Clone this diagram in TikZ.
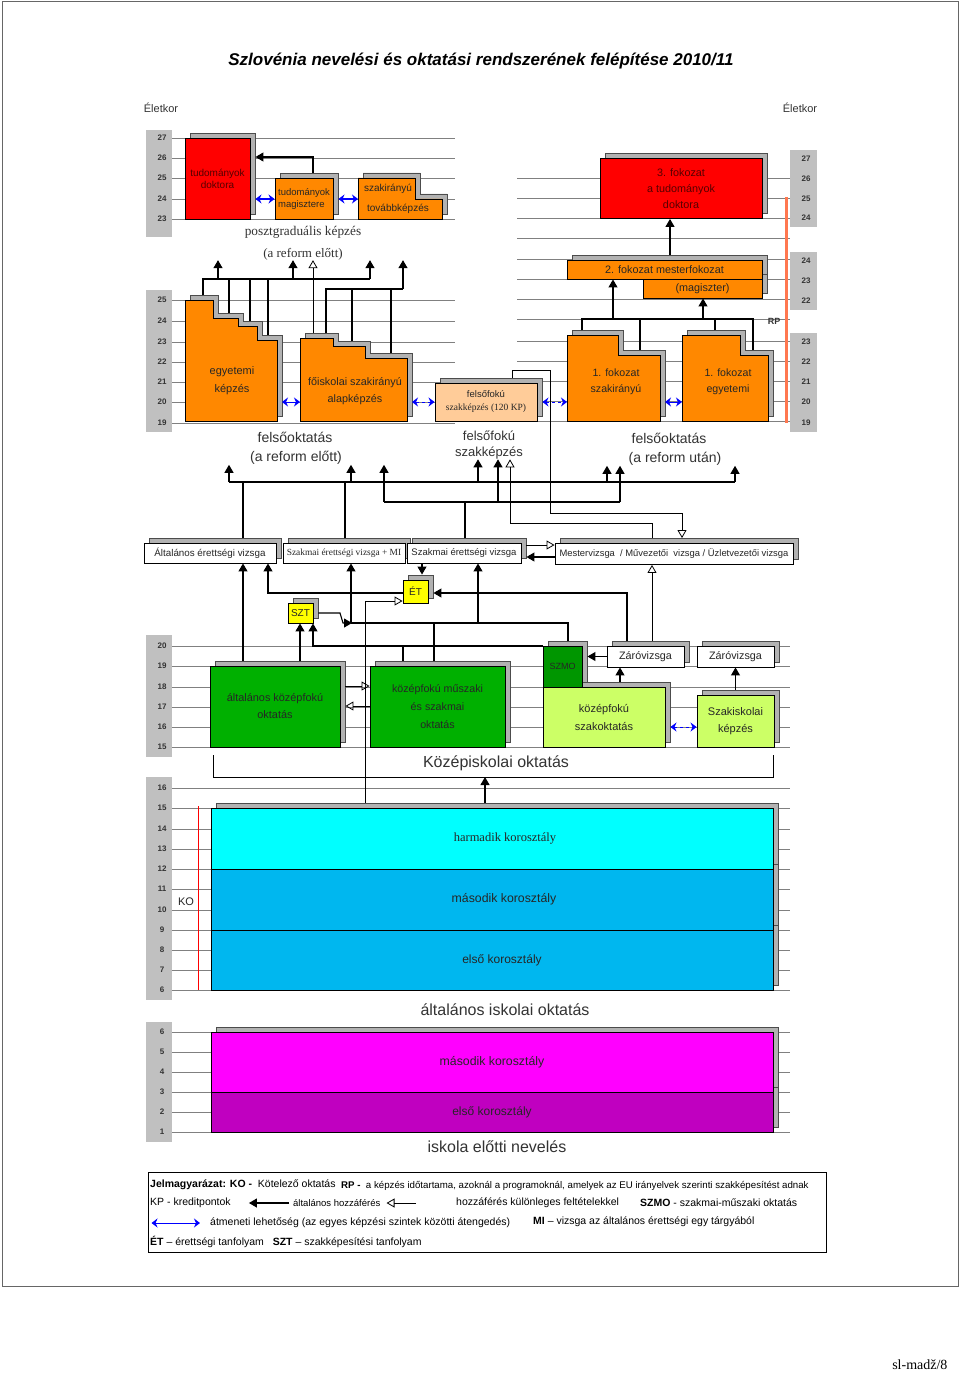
\documentclass[tikz,border=0pt]{standalone}
\usepackage{fontspec}
\setmainfont{Liberation Sans}
\newfontfamily\timesfont{Liberation Serif}
\usetikzlibrary{arrows.meta,shadows,calc}

\definecolor{piros}{RGB}{255,0,0}
\definecolor{bordo}{RGB}{85,0,0}
\definecolor{narancs}{RGB}{255,136,0}
\definecolor{barack}{RGB}{255,204,153}
\definecolor{zold}{RGB}{0,176,0}
\definecolor{mzold}{RGB}{0,150,0}
\definecolor{vzold}{RGB}{204,255,102}
\definecolor{sarga}{RGB}{255,255,0}
\definecolor{cian}{RGB}{0,255,255}
\definecolor{egkek}{RGB}{0,183,239}
\definecolor{bibor}{RGB}{255,0,255}
\definecolor{lila}{RGB}{192,0,192}
\definecolor{rpszin}{RGB}{255,120,80}
\definecolor{kszurke}{RGB}{192,192,192}

\tikzset{
  kocka/.style = {draw=black, line width=0.9pt, inner sep=1pt, align=center,
    text=black!85, font=\fontsize{10}{12}\selectfont,
    general shadow={fill=gray!60, draw=black!70, shadow xshift=5pt,
      shadow yshift=5pt}},% 3D doboz
  lepcso/.style = {draw=black, line width=0.9pt,
    general shadow={fill=gray!60, draw=black!70, shadow xshift=5pt,
      shadow yshift=5pt}},% lepcsos doboz
  felirat/.style = {inner sep=0pt, align=center, text=black!85,
    font=\fontsize{10.6}{16}\selectfont},
  cimke/.style = {inner sep=0pt, align=center, text=black!80,
    font=\fontsize{14}{16}\selectfont},% szint neve
  kor/.style = {inner sep=0pt, text=black!80, font=\fontsize{8}{8}\selectfont\bfseries},
  korsav/.style = {fill=kszurke},
  racs/.style = {draw=black!50, line width=0.7pt},
  vonal/.style = {line width=1.1pt},
  alt/.style = {line width=1.1pt, -{Triangle[length=8pt,width=9pt]}},% altalanos hozzaferes
  kul/.style = {line width=0.8pt, -{Triangle[open,length=8pt,width=9pt]}},% kulonleges feltetelekkel
  atm/.style = {blue, line width=1pt,
    {Stealth[length=6pt,width=9pt]}-{Stealth[length=6pt,width=9pt]}},% atmeneti lehetoseg
  jel/.style = {inner sep=0pt, anchor=west, font=\fontsize{10.5}{11}\selectfont}
}

\begin{document}
\begin{tikzpicture}[x=1pt,y=-1pt]
\useasboundingbox (0,0) rectangle (960,1375);
\fill[white] (0,0) rectangle (960,1375);
\draw[black!60, line width=1pt] (2,2) rectangle (958,1286);

\node[font=\fontsize{17}{18}\selectfont\bfseries\itshape] (cim) at (481,61)
  {Szlovénia nevelési és oktatási rendszerének felépítése 2010/11};
\node[kor, font=\fontsize{11}{11}\selectfont] (kor1) at (161,108) {Életkor};
\node[kor, font=\fontsize{11}{11}\selectfont] (kor2) at (800,108) {Életkor};

% eletkor savok
\fill[korsav] (146,130) rectangle (172,237);
\fill[korsav] (146,290) rectangle (172,432);
\fill[korsav] (146,635) rectangle (172,757);
\fill[korsav] (146,777) rectangle (172,1000);
\fill[korsav] (146,1022) rectangle (172,1142);
\fill[korsav] (790,150) rectangle (817,227);
\fill[korsav] (790,252) rectangle (817,310);
\fill[korsav] (790,333) rectangle (817,432);
\foreach \k/\y in {27/138,26/158,25/178,24/199,23/219,
  25/300,24/321,23/342,22/362,21/382,20/402,19/423,
  20/646,19/666,18/687,17/707,16/727,15/747,
  16/788,15/808,14/829,13/849,12/869,11/889,10/910,9/930,8/950,7/970,6/990,
  6/1032,5/1052,4/1072,3/1092,2/1112,1/1132}
  \node[kor] (bal\y) at (162,\y) {\k};
\foreach \k/\y in {27/159,26/179,25/199,24/218,24/261,23/281,22/301,
  23/342,22/362,21/382,20/402,19/423}
  \node[kor] (jobb\y) at (806,\y) {\k};

% racs
\foreach \y in {138,158,178,199,219,300,321,342,362,382,402,423}
  \draw[racs] (172,\y) -- (455,\y);
\foreach \y in {178,198,218,238,259,279,299,319,341,361,381,401,421}
  \draw[racs] (517,\y) -- (790,\y);
\foreach \y in {646,666,687,707,727,747,788,808,829,849,869,889,910,930,950,970,990,
  1032,1052,1072,1092,1112,1132}
  \draw[racs] (172,\y) -- (790,\y);

% posztgradualis kepzes
\node[kocka, fill=piros, text=bordo, minimum width=65, minimum height=81]
  (tdr) at (217.5,178.5) {tudományok\\doktora};
\node[kocka, fill=narancs, align=left, font=\fontsize{9.5}{12}\selectfont,
  minimum width=58, minimum height=41] (tmag) at (304,198.5) {tudományok\\magisztere};
\draw[lepcso, fill=narancs] (358,219) -- (358,178) -- (415,178) -- (415,199)
  -- (442,199) -- (442,219) -- cycle;
\node[felirat, font=\fontsize{10}{10}\selectfont] (szto1) at (388,189) {szakirányú};
\node[felirat, font=\fontsize{10}{10}\selectfont] (szto2) at (398,209) {továbbképzés};
\coordinate (szto) at (358,199);
\draw[alt, shorten >=5pt, shorten <=5pt] (tmag.north -| 313,0) |- (tdr.east |- 0,157);
\draw[atm, shorten <=5pt] (tdr.east |- 0,199) -- (tmag.west |- 0,199);
\draw[atm, shorten <=5pt] (tmag.east |- 0,199) -- (szto);
\node[cimke, font=\timesfont\fontsize{13.3}{16}\selectfont] (poszt1) at (303,232)
  {posztgraduális képzés};
\node[cimke, font=\timesfont\fontsize{13}{16}\selectfont] (poszt2) at (303,254)
  {(a reform előtt)};

% felsooktatas a reform elott
\draw[lepcso, fill=narancs] (185,421) -- (185,300) -- (213,300) -- (213,318)
  -- (238,318) -- (238,326) -- (257,326) -- (257,340) -- (277,340)
  -- (277,421) -- cycle;
\node[felirat, font=\fontsize{11}{18}\selectfont] (egy) at (232,381) {egyetemi\\képzés};
\coordinate (egy1) at (203,295);
\coordinate (egy2) at (229,313);
\coordinate (egy3) at (250,321);
\coordinate (egy4) at (268,335);
\draw[lepcso, fill=narancs] (300,421) -- (300,338) -- (333,338) -- (333,346)
  -- (365,346) -- (365,358) -- (407,358) -- (407,421) -- cycle;
\node[felirat, font=\fontsize{10.8}{17}\selectfont] (foi) at (355,391)
  {főiskolai szakirányú\\alapképzés};
\coordinate (foi1) at (313,333);
\coordinate (foi2) at (326,333);
\coordinate (foi3) at (352,341);
\coordinate (foi4) at (391,353);
\draw[vonal] (egy1) |- (370,279);
\foreach \c in {egy2,egy3,egy4} \draw[vonal] (\c) -- (\c |- 0,279);
\foreach \x in {218,293,370} \draw[alt] (\x,279) -- (\x,0 |- poszt2.south);
\draw[kul] (foi1) -- (foi1 |- poszt2.south);
\draw[vonal] (foi2) |- (403,289);
\foreach \c in {foi3,foi4} \draw[vonal] (\c) -- (\c |- 0,289);
\draw[alt] (403,289) -- (403,0 |- poszt2.south);

% felsofoku szakkepzes
\node[kocka, fill=barack, minimum width=102, minimum height=38,
  font=\fontsize{9.5}{13}\selectfont] (fsz) at (486,402)
  {felsőfokú\\{\timesfont szakképzés (120 KP)}};

% felsooktatas a reform utan
\node[kocka, fill=piros, text=bordo, font=\fontsize{10.8}{16}\selectfont,
  minimum width=162, minimum height=60] (dr3) at (681,188.5)
  {3. fokozat\\a tudományok\\doktora};
\node[kocka, fill=narancs, minimum width=119, minimum height=19,
  font=\fontsize{10.8}{10}\selectfont] (m2b) at (702.5,288.5) {(magiszter)};
\node[kocka, fill=narancs, minimum width=195, minimum height=19,
  font=\fontsize{10.8}{10}\selectfont] (m2a) at (664.5,269.5) {2. fokozat mesterfokozat};
\draw[alt, shorten <=5pt] (m2a.north -| 670,0) -- (670,0 |- dr3.south);
\draw[lepcso, fill=narancs] (567,421) -- (567,335) -- (618,335) -- (618,355)
  -- (660,355) -- (660,421) -- cycle;
\node[felirat] (f1sz) at (616,382) {1. fokozat\\szakirányú};
\draw[lepcso, fill=narancs] (682,421) -- (682,335) -- (740,335) -- (740,355)
  -- (768,355) -- (768,421) -- cycle;
\node[felirat] (f1eg) at (728,382) {1. fokozat\\egyetemi};
\coordinate (f1sz1) at (582,330);
\coordinate (f1sz2) at (640,350);
\coordinate (f1eg1) at (715,330);
\coordinate (f1eg2) at (753,350);
\draw[vonal] (f1sz1) |- (f1eg2 |- 0,319) -- (f1eg2);
\foreach \c in {f1sz2,f1eg1} \draw[vonal] (\c) -- (\c |- 0,319);
\draw[alt] (613,319) -- (613,0 |- m2a.south);
\draw[alt] (703,319) -- (703,0 |- m2b.south);
\draw[rpszin, line width=3pt] (786,197) -- (786,423);
\node[kor, font=\fontsize{9}{9}\selectfont\bfseries] (rp) at (774,321) {RP};

% atmenetek
\coordinate (egyj) at (282,402);
\coordinate (foib) at (300,402);
\coordinate (foij) at (412,402);
\coordinate (f1szb) at (567,402);
\coordinate (f1szj) at (665,402);
\coordinate (f1egb) at (682,402);
\draw[atm] (egyj) -- (foib);
\draw[atm, dashed] (foij) -- (fsz.west |- foij);
\draw[atm, dashed, shorten <=5pt] (fsz.east |- f1szb) -- (f1szb);
\draw[atm] (f1szj) -- (f1egb);

\node[cimke] (fo1) at (295,437) {felsőoktatás};
\node[cimke] (fo2) at (296,458) {(a reform előtt)};
\node[cimke, font=\fontsize{13}{16}\selectfont] (fszk1) at (489,436) {felsőfokú};
\node[cimke, font=\fontsize{13}{16}\selectfont] (fszk2) at (489,453) {szakképzés};
\node[cimke] (fo3) at (669,438) {felsőoktatás};
\node[cimke] (fo4) at (675,459) {(a reform után)};

% vizsgak
\node[kocka, fill=white, minimum width=132, minimum height=20,
  font=\fontsize{9.8}{9}\selectfont] (aev) at (210,553) {Általános érettségi vizsga};
\node[kocka, fill=white, minimum width=122, minimum height=20,
  font=\timesfont\fontsize{9.4}{8}\selectfont] (szmi) at (344,553)
  {Szakmai érettségi vizsga + MI};
\node[kocka, fill=white, minimum width=114, minimum height=20,
  font=\fontsize{9.5}{9}\selectfont] (szev) at (464,553) {Szakmai érettségi vizsga};
\node[kocka, fill=white, minimum width=238, minimum height=21,
  font=\fontsize{9.4}{9}\selectfont] (mvizsga) at (674,554)
  {Mestervizsga \ / Művezetői \ vizsga / Üzletvezetői vizsga};

\draw[vonal] (229,482) -- (735,482);
\draw[vonal] (384,502) -- (620,502);
\draw[vonal, shorten <=5pt] (aev.north -| 243,0) -- (243,482);
\draw[vonal, shorten <=5pt] (szmi.north -| 345,0) -- (345,482);
\draw[vonal, shorten <=5pt] (szev.north -| 465,0) -- (465,502);
\foreach \x in {229,351} \draw[alt] (\x,482) -- (\x,0 |- fo2.south);
\draw[alt] (478,482) -- (478,0 |- fszk2.south);
\foreach \x in {607,735} \draw[alt] (\x,482) -- (\x,0 |- fo4.south);
\draw[alt] (384,502) -- (384,0 |- fo2.south);
\draw[alt] (498,502) -- (498,0 |- fszk2.south);
\draw[alt] (620,502) -- (620,0 |- fo4.south);
\draw[kul, shorten >=5pt] ($(fsz.north)+(26,-5)$) |- (550,370) |- (682,513)
  -- (682,0 |- mvizsga.north);
\draw[kul] ($(mvizsga.north)+(-22,-5)$) |- (510,523) -- (510,0 |- fszk2.south);
\draw[kul, shorten <=5pt] (szev.east |- 0,545) -- (mvizsga.west |- 0,545);
\draw[alt, shorten >=5pt] (mvizsga.west |- 0,557) -- (szev.east |- 0,557);

% tanfolyamok
\node[kocka, fill=sarga, minimum width=25, minimum height=23] (et) at (415.5,591.5) {ÉT};
\node[kocka, fill=sarga, minimum width=25, minimum height=20] (szt) at (300.5,613) {SZT};
\draw[alt, shorten >=5pt] (szev.south -| 422,0) -- (422,0 |- et.north);
\draw[alt] (et.west |- 0,593) -| (268,0 |- aev.south);

% kozepiskolai oktatas
\node[kocka, fill=zold, minimum width=130, minimum height=81,
  font=\fontsize{10.9}{17}\selectfont] (aka) at (275,706.5) {általános középfokú\\oktatás};
\node[kocka, fill=zold, minimum width=135, minimum height=81,
  font=\fontsize{10.7}{18}\selectfont] (msz) at (437.5,706.5)
  {középfokú műszaki\\és szakmai\\oktatás};
\node[kocka, fill=vzold, minimum width=122, minimum height=60,
  font=\fontsize{11}{18}\selectfont] (szak) at (604,717) {középfokú\\szakoktatás};
\node[kocka, fill=mzold, minimum width=39, minimum height=41,
  font=\fontsize{9}{9}\selectfont] (szmo) at (562.5,666.5) {SZMO};
\node[kocka, fill=white, minimum width=77, minimum height=21,
  font=\fontsize{10.8}{10}\selectfont] (zv1) at (645.5,656.5) {Záróvizsga};
\node[kocka, fill=white, minimum width=77, minimum height=21,
  font=\fontsize{10.8}{10}\selectfont] (zv2) at (735.5,656.5) {Záróvizsga};
\node[kocka, fill=vzold, minimum width=77, minimum height=52,
  font=\fontsize{11}{17}\selectfont] (szi) at (735.5,721) {Szakiskolai\\képzés};

\draw[alt, shorten <=5pt] (aka.north -| 243,0) -- (243,0 |- aev.south);
\draw[alt, shorten <=5pt] (aka.north -| 300,0) -- (300,0 |- szt.south);
\draw[vonal, shorten <=5pt] (msz.north -| 403,0) -- (403,646);
\draw[alt] (szmo.west |- 0,646) -| (313,0 |- szt.south);
\draw[vonal, shorten <=5pt] (msz.north -| 434,0) -- (434,623);
\draw[vonal, shorten >=5pt] (351,623) -| (szmo.north -| 568,0);
\draw[alt] (351,623) -- (351,0 |- szmi.south);
\draw[alt] (478,623) -- (478,0 |- szev.south);
\draw[alt, shorten <=5pt] (szt.east) -- (340,613) -- (343,623) -- (352,623);
\draw[kul, shorten <=5pt] (aka.east |- 0,686) -- (msz.west |- 0,686);
\draw[kul, shorten >=5pt] (msz.west |- 0,706) -- (aka.east |- 0,706);
\draw[alt, shorten >=5pt] (zv1.west) -- (szmo.east |- zv1.west);
\draw[alt, shorten <=5pt] (szak.north -| 620,0) -- (620,0 |- zv1.south);
\draw[alt, shorten <=5pt] (szi.north) -- (zv2.south);
\draw[atm, dashed, shorten <=5pt] (szak.east |- 0,727) -- (szi.west |- 0,727);
\draw[alt, shorten <=5pt, shorten >=5pt] (zv1.north -| 627,0) |- (et.east |- 0,593);
\draw[kul, shorten <=5pt] (zv1.north -| 652,0) -- (652,0 |- mvizsga.south);

\draw[vonal, line width=0.8pt] (213,755) |- (773,777) -- (773,755);
\node[cimke, font=\fontsize{16}{16}\selectfont] (kozep) at (496,763) {Középiskolai oktatás};
\coordinate (kozepalj) at (485,777);

% altalanos iskola
\node[kocka, fill=egkek, minimum width=562, minimum height=60,
  font=\fontsize{12}{14}\selectfont] (e1) at (492,960) {\hspace*{20pt}első korosztály};
\node[kocka, fill=egkek, minimum width=562, minimum height=61,
  font=\fontsize{12.3}{14}\selectfont] (m2) at (492,899.5)
  {\hspace*{24pt}második korosztály};
\node[kocka, fill=cian, minimum width=562, minimum height=61,
  font=\timesfont\fontsize{12.5}{14}\selectfont] (h3) at (492,838.5)
  {\hspace*{26pt}harmadik korosztály};
\draw[alt, shorten <=5pt] (h3.north -| 485,0) -- (kozepalj);
\draw[kul, shorten <=5pt] (h3.north -| 365,0) |- (et.west |- 0,601);
\draw[red, line width=1pt] (198,806) -- (198,990);
\node[felirat, font=\fontsize{11}{12}\selectfont] (ko) at (186,902) {KO};
\node[cimke, font=\fontsize{16}{16}\selectfont] (altisk) at (505,1010)
  {általános iskolai oktatás};

% iskola elotti neveles
\node[kocka, fill=lila, minimum width=562, minimum height=40,
  font=\fontsize{12}{14}\selectfont] (e1p) at (492,1112) {első korosztály};
\node[kocka, fill=bibor, minimum width=562, minimum height=60,
  font=\fontsize{12.3}{14}\selectfont] (m2p) at (492,1062) {második korosztály};
\node[cimke, font=\fontsize{16}{16}\selectfont] (isk) at (497,1147) {iskola előtti nevelés};

% jelmagyarazat
\node[draw, line width=1pt, minimum width=678, minimum height=80] (jelm) at (487,1212) {};
\node[jel] (j1) at (150,1185) {\textbf{Jelmagyarázat: KO -} \ Kötelező oktatás};
\node[jel, font=\fontsize{9.7}{9}\selectfont] (j2) at (341,1186)
  {\textbf{RP -} \ a képzés időtartama, azoknál a programoknál, amelyek az EU irányelvek szerinti szakképesítést adnak};
\node[jel] (j3) at (150,1203) {KP - kreditpontok};
\node[jel, font=\fontsize{9.5}{11}\selectfont] (j4) at (293,1203) {általános hozzáférés};
\node[jel] (j5) at (456,1203) {hozzáférés különleges feltételekkel};
\node[jel] (j6) at (640,1203) {\textbf{SZMO} - szakmai-műszaki oktatás};
\node[jel] (j7) at (210,1223) {átmeneti lehetőség (az egyes képzési szintek közötti átengedés)};
\node[jel] (j8) at (533,1222) {\textbf{MI} – vizsga az általános érettségi egy tárgyából};
\node[jel] (j9) at (150,1242)
  {\textbf{ÉT} – érettségi tanfolyam \ \ \textbf{SZT} – szakképesítési tanfolyam};
\draw[alt, shorten <=4pt, shorten >=18pt] (j4.west) -- (j3.east);
\draw[kul, shorten <=40pt, shorten >=6pt] (j5.west) -- (j4.east);
\draw[atm, shorten <=4pt, shorten >=10pt] (jelm.west |- j7) -- (j7.west);

\node[font=\timesfont\fontsize{14}{16}\selectfont, anchor=east] (oldal) at (951,1365)
  {sl-madž/8};
\end{tikzpicture}
\end{document}
